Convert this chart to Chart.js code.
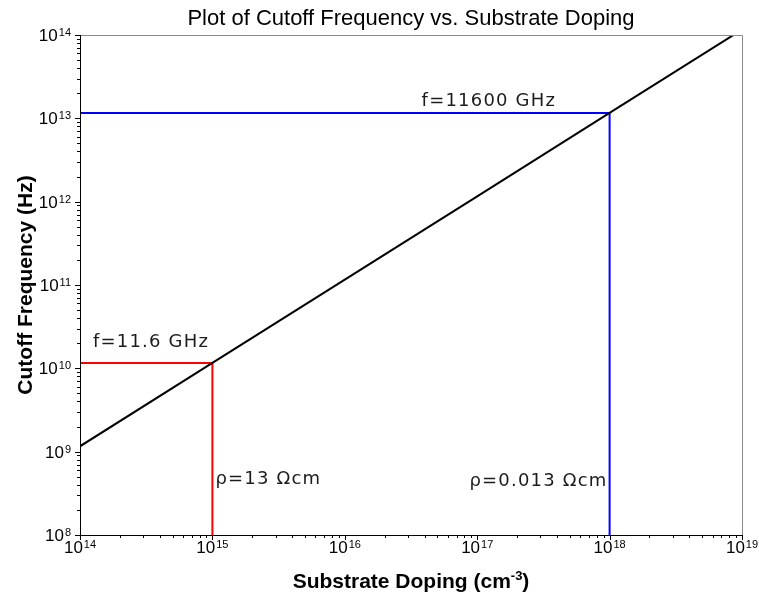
<!DOCTYPE html>
<html>
<head>
<meta charset="utf-8">
<script src="https://cdn.jsdelivr.net/npm/chart.js@4.4.1/dist/chart.umd.min.js"></script>
<style>
    body { margin: 0; background: #fff; }
    #wrap { width: 759px; height: 592px; }
</style>
</head>
<body>
<div id="wrap"><canvas id="fcChart" width="759" height="592"></canvas></div>
<script>
// doping (cm^-3) and cutoff frequency (Hz)
const dopingDecades = [1e14, 1e15, 1e16, 1e17, 1e18, 1e19];
const cutoffFreq = [1.16e9, 1.16e10, 1.16e11, 1.16e12, 1.16e13, 1.16e14];
const freqDecades = [1e8, 1e9, 1e10, 1e11, 1e12, 1e13, 1e14];

// marked operating points
const lowDoping = 1e15;
const lowFreq = 1.16e10;
const highDoping = 1e18;
const highFreq = 1.16e13;
const lowFreqLabel = 'f=11.6 GHz';
const highFreqLabel = 'f=11600 GHz';
const lowRhoLabel = 'ρ=13 Ωcm';
const highRhoLabel = 'ρ=0.013 Ωcm';

var xMin = dopingDecades[0], xMax = dopingDecades[dopingDecades.length - 1];
var yMin = freqDecades[0], yMax = freqDecades[freqDecades.length - 1];

var mainLine = dopingDecades.map(function (d, i) { return { x: d, y: cutoffFreq[i] }; });
var redLine = [{ x: xMin, y: lowFreq }, { x: lowDoping, y: lowFreq }, { x: lowDoping, y: yMin }];
var blueLine = [{ x: xMin, y: highFreq }, { x: highDoping, y: highFreq }, { x: highDoping, y: yMin }];

function exp10(v) { return Math.round(Math.log10(v)); }

// "10" with a raised exponent
function powerLabel(ctx, x, y, e, align) {
    ctx.font = '17px "Liberation Sans", Arial, sans-serif';
    var base = ctx.measureText('10').width;
    ctx.font = '11px "Liberation Sans", Arial, sans-serif';
    var sup = ctx.measureText(String(e)).width;
    var total = base + 1 + sup;
    var left = align === 'center' ? x - total / 2 : x - total;
    ctx.textAlign = 'left';
    ctx.textBaseline = 'alphabetic';
    ctx.font = '17px "Liberation Sans", Arial, sans-serif';
    ctx.fillText('10', left, y);
    ctx.font = '11px "Liberation Sans", Arial, sans-serif';
    ctx.fillText(String(e), left + base + 1, y - 5);
}

var axesPlugin = {
    id: 'axesPlugin',
    afterDraw: function (chart) {
        var ctx = chart.ctx;
        var a = chart.chartArea;
        var xs = chart.scales.x, ys = chart.scales.y;
        ctx.save();

        // frame: grey top/right, black axes
        ctx.lineWidth = 1;
        ctx.strokeStyle = '#8a8a8a';
        ctx.beginPath();
        ctx.moveTo(a.left, a.top + 0.5); ctx.lineTo(a.right + 0.5, a.top + 0.5);
        ctx.lineTo(a.right + 0.5, a.bottom);
        ctx.stroke();
        ctx.strokeStyle = '#000';
        ctx.beginPath();
        ctx.moveTo(a.left + 0.5, a.top); ctx.lineTo(a.left + 0.5, a.bottom + 0.5);
        ctx.lineTo(a.right + 0.5, a.bottom + 0.5);
        ctx.stroke();

        // tick marks
        ctx.beginPath();
        for (var d = exp10(xMin); d <= exp10(xMax); d++) {
            for (var k = 1; k <= 9; k++) {
                var v = k * Math.pow(10, d);
                if (v > xMax * 1.0001) break;
                var px = Math.round(xs.getPixelForValue(v)) + 0.5;
                ctx.moveTo(px, a.bottom);
                ctx.lineTo(px, a.bottom + (k === 1 ? 5 : 3));
            }
        }
        for (var d = exp10(yMin); d <= exp10(yMax); d++) {
            for (var k = 1; k <= 9; k++) {
                var v = k * Math.pow(10, d);
                if (v > yMax * 1.0001) break;
                var py = Math.round(ys.getPixelForValue(v)) + 0.5;
                ctx.moveTo(a.left, py);
                ctx.lineTo(a.left - (k === 1 ? 5 : 3), py);
            }
        }
        ctx.stroke();

        // tick labels
        ctx.fillStyle = '#000';
        dopingDecades.forEach(function (v) {
            powerLabel(ctx, xs.getPixelForValue(v), a.bottom + 18, exp10(v), 'center');
        });
        freqDecades.forEach(function (v) {
            powerLabel(ctx, 71, ys.getPixelForValue(v) + 6, exp10(v), 'right');
        });

        // title
        var cx = (a.left + a.right) / 2;
        ctx.textAlign = 'center';
        ctx.textBaseline = 'alphabetic';
        ctx.font = '22px "Liberation Sans", Arial, sans-serif';
        ctx.fillText('Plot of Cutoff Frequency vs. Substrate Doping', cx, 25);

        // axis titles
        ctx.font = 'bold 21px "Liberation Sans", Arial, sans-serif';
        ctx.save();
        ctx.translate(32, (a.top + a.bottom) / 2);
        ctx.rotate(-Math.PI / 2);
        ctx.fillText('Cutoff Frequency (Hz)', 0, 0);
        ctx.restore();

        var t1 = 'Substrate Doping (cm', t2 = '-3', t3 = ')';
        ctx.font = 'bold 21px "Liberation Sans", Arial, sans-serif';
        var w1 = ctx.measureText(t1).width, w3 = ctx.measureText(t3).width;
        ctx.font = 'bold 13px "Liberation Sans", Arial, sans-serif';
        var w2 = ctx.measureText(t2).width;
        var lx = cx - (w1 + w2 + w3) / 2;
        ctx.textAlign = 'left';
        ctx.font = 'bold 21px "Liberation Sans", Arial, sans-serif';
        ctx.fillText(t1, lx, 588);
        ctx.fillText(t3, lx + w1 + w2, 588);
        ctx.font = 'bold 13px "Liberation Sans", Arial, sans-serif';
        ctx.fillText(t2, lx + w1, 580);

        // point annotations
        ctx.fillStyle = '#1c1c1c';
        ctx.font = '18px "DejaVu Sans", Verdana, sans-serif';
        ctx.letterSpacing = '1.2px';
        ctx.fillText(lowFreqLabel, a.left + 13, ys.getPixelForValue(lowFreq) - 16);
        ctx.fillText(highFreqLabel, xs.getPixelForValue(highDoping) - 188, ys.getPixelForValue(highFreq) - 7);
        ctx.fillText(lowRhoLabel, xs.getPixelForValue(lowDoping) + 3, 484);
        ctx.textAlign = 'right';
        ctx.fillText(highRhoLabel, xs.getPixelForValue(highDoping) - 2, 486);
        ctx.letterSpacing = '0px';

        ctx.restore();
    }
};

var ctx = document.getElementById('fcChart').getContext('2d');
var fcChart = new Chart(ctx, {
    type: 'line',
    data: {
        datasets: [
            { data: mainLine, borderColor: '#000', borderWidth: 2, pointRadius: 0, tension: 0 },
            { data: redLine, borderColor: '#ff0000', borderWidth: 2, pointRadius: 0, tension: 0 },
            { data: blueLine, borderColor: '#0000ff', borderWidth: 2, pointRadius: 0, tension: 0 }
        ]
    },
    options: {
        responsive: false,
        animation: false,
        layout: { padding: { left: 80, right: 17, top: 35, bottom: 57 } },
        plugins: { legend: { display: false }, tooltip: { enabled: false } },
        scales: {
            x: {
                type: 'logarithmic', min: xMin, max: xMax,
                grid: { display: false, drawTicks: false },
                border: { display: false },
                ticks: { display: false },
                afterFit: function (s) { s.height = 0; }
            },
            y: {
                type: 'logarithmic', min: yMin, max: yMax,
                grid: { display: false, drawTicks: false },
                border: { display: false },
                ticks: { display: false },
                afterFit: function (s) { s.width = 0; }
            }
        }
    },
    plugins: [axesPlugin]
});
</script>
</body>
</html>
